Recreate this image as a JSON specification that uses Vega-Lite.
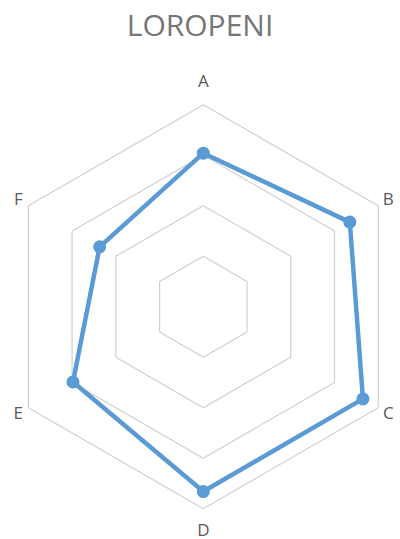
{
  "$schema": "https://vega.github.io/schema/vega-lite/v6.json",
  "width": 400,
  "height": 479,
  "autosize": {"type": "none"},
  "padding": {"top": 60, "left": 0, "right": 0, "bottom": 0},
  "background": "white",
  "title": {"text": "LOROPENI", "fontSize": 30, "font": "Open Sans", "fontWeight": "normal", "color": "#767676", "anchor": "middle", "frame": "group", "offset": 18},
  "config": {"view": {"stroke": null}},
  "datasets": {
    "series": [
      {"cat": "A", "value": 3.04},
      {"cat": "B", "value": 3.35},
      {"cat": "C", "value": 3.65},
      {"cat": "D", "value": 3.66},
      {"cat": "E", "value": 2.98},
      {"cat": "F", "value": 2.37}
    ],
    "grid": [
      {"ring": 1, "cat": ["A", "B", "C", "D", "E", "F"]},
      {"ring": 2, "cat": ["A", "B", "C", "D", "E", "F"]},
      {"ring": 3, "cat": ["A", "B", "C", "D", "E", "F"]},
      {"ring": 4, "cat": ["A", "B", "C", "D", "E", "F"]}
    ]
  },
  "layer": [
    {
      "data": {"name": "grid"},
      "transform": [
        {"flatten": ["cat"]},
        {"calculate": "indexof(['A','B','C','D','E','F'], datum.cat) * PI / 3", "as": "a"},
        {"calculate": "datum.ring * sin(datum.a)", "as": "x"},
        {"calculate": "datum.ring * cos(datum.a)", "as": "y"},
        {"calculate": "datum.ring * sin(datum.a + PI / 3)", "as": "x2"},
        {"calculate": "datum.ring * cos(datum.a + PI / 3)", "as": "y2"}
      ],
      "mark": {"type": "rule", "color": "#d0d0d0", "strokeWidth": 1.2},
      "encoding": {
        "x": {"field": "x", "type": "quantitative", "scale": {"domain": [-4.026, 3.895], "nice": false, "zero": false}, "axis": null},
        "y": {"field": "y", "type": "quantitative", "scale": {"domain": [-4.6, 4.885], "nice": false, "zero": false}, "axis": null},
        "x2": {"field": "x2"},
        "y2": {"field": "y2"}
      }
    },
    {
      "data": {"name": "series"},
      "transform": [
        {"calculate": "indexof(['A','B','C','D','E','F'], datum.cat)", "as": "i"},
        {"calculate": "datum.i * PI / 3", "as": "a"},
        {"calculate": "['B','C','D','E','F','A'][datum.i]", "as": "next"},
        {"lookup": "next", "from": {"data": {"name": "series"}, "key": "cat", "fields": ["value"]}, "as": ["nextValue"]},
        {"calculate": "datum.value * sin(datum.a)", "as": "x"},
        {"calculate": "datum.value * cos(datum.a)", "as": "y"},
        {"calculate": "datum.nextValue * sin(datum.a + PI / 3)", "as": "x2"},
        {"calculate": "datum.nextValue * cos(datum.a + PI / 3)", "as": "y2"}
      ],
      "mark": {"type": "rule", "color": "#5B9BD5", "strokeWidth": 4.5, "strokeCap": "round"},
      "encoding": {
        "x": {"field": "x", "type": "quantitative"},
        "y": {"field": "y", "type": "quantitative"},
        "x2": {"field": "x2"},
        "y2": {"field": "y2"}
      }
    },
    {
      "data": {"name": "series"},
      "transform": [
        {"calculate": "indexof(['A','B','C','D','E','F'], datum.cat) * PI / 3", "as": "a"},
        {"calculate": "datum.value * sin(datum.a)", "as": "x"},
        {"calculate": "datum.value * cos(datum.a)", "as": "y"}
      ],
      "mark": {"type": "point", "filled": true, "opacity": 1, "color": "#5B9BD5", "size": 170},
      "encoding": {
        "x": {"field": "x", "type": "quantitative"},
        "y": {"field": "y", "type": "quantitative"}
      }
    },
    {
      "data": {"name": "series"},
      "transform": [
        {"calculate": "indexof(['A','B','C','D','E','F'], datum.cat)", "as": "i"},
        {"calculate": "datum.i * PI / 3", "as": "a"},
        {"calculate": "datum.i % 3 == 0 ? 4.45 : 4.23", "as": "r"},
        {"calculate": "datum.r * sin(datum.a)", "as": "x"},
        {"calculate": "datum.r * cos(datum.a)", "as": "y"}
      ],
      "mark": {"type": "text", "font": "Open Sans", "fontSize": 17, "color": "#595959", "align": "center", "baseline": "middle"},
      "encoding": {
        "x": {"field": "x", "type": "quantitative"},
        "y": {"field": "y", "type": "quantitative"},
        "text": {"field": "cat"}
      }
    }
  ]
}
